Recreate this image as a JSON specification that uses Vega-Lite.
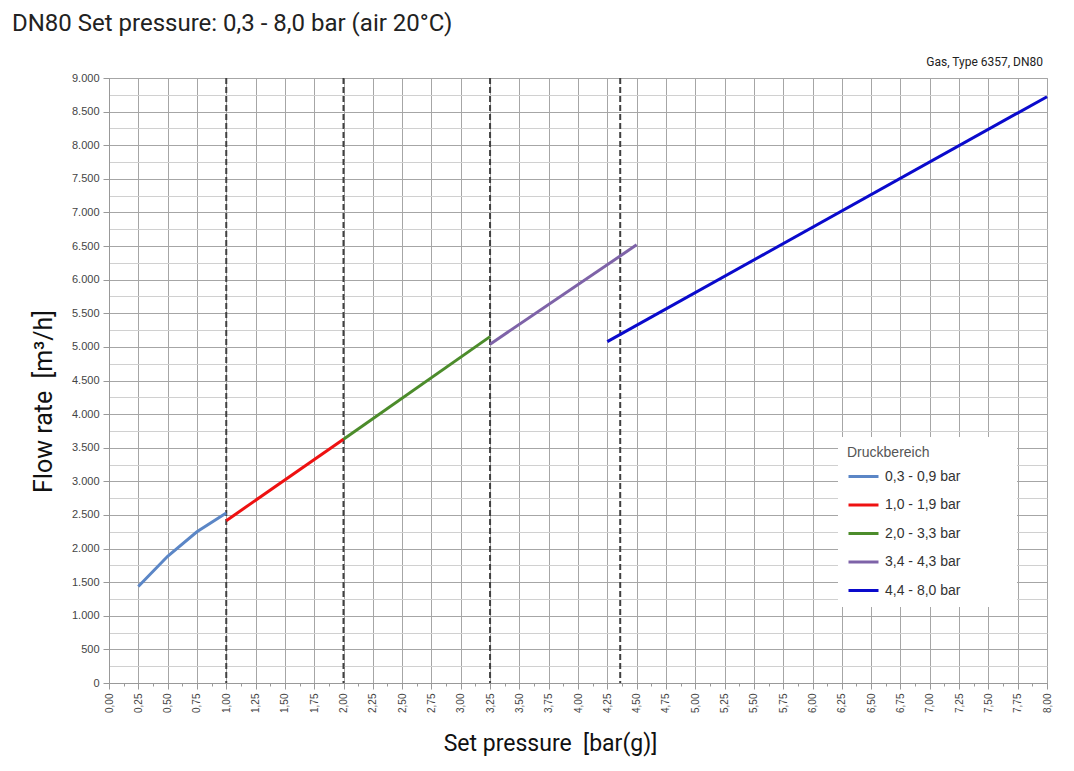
{
  "$schema": "https://vega.github.io/schema/vega-lite/v6.json",
  "autosize": {"type": "none"},
  "padding": {"left": 109, "top": 78, "right": 27, "bottom": 88},
  "width": 938,
  "height": 605,
  "background": "white",
  "title": {
    "text": "DN80 Set pressure: 0,3 - 8,0 bar (air 20°C)",
    "anchor": "start",
    "frame": "group",
    "font": "Roboto",
    "fontSize": 24,
    "fontWeight": "normal",
    "color": "#222222",
    "baseline": "alphabetic",
    "dx": -97,
    "offset": 1
  },
  "datasets": {
    "curves": [
      {"series": "0,3 - 0,9 bar", "p": 0.25, "q": 1435},
      {"series": "0,3 - 0,9 bar", "p": 0.5, "q": 1885},
      {"series": "0,3 - 0,9 bar", "p": 0.75, "q": 2250},
      {"series": "0,3 - 0,9 bar", "p": 1.0, "q": 2530},
      {"series": "1,0 - 1,9 bar", "p": 1.0, "q": 2415},
      {"series": "1,0 - 1,9 bar", "p": 2.0, "q": 3626},
      {"series": "2,0 - 3,3 bar", "p": 2.0, "q": 3626},
      {"series": "2,0 - 3,3 bar", "p": 3.25, "q": 5153},
      {"series": "3,4 - 4,3 bar", "p": 3.25, "q": 5040},
      {"series": "3,4 - 4,3 bar", "p": 4.5, "q": 6518},
      {"series": "4,4 - 8,0 bar", "p": 4.25, "q": 5079},
      {"series": "4,4 - 8,0 bar", "p": 8.0, "q": 8722}
    ],
    "bounds": [
      {"p": 1.0},
      {"p": 2.0},
      {"p": 3.25},
      {"p": 4.36}
    ],
    "note": [
      {"p": 8.0, "q": 9000, "label": "Gas, Type 6357, DN80"}
    ]
  },
  "config": {
    "view": {"stroke": "#a6a6a6", "strokeWidth": 1},
    "axis": {
      "labelFont": "Liberation Sans",
      "labelFontSize": 11,
      "labelColor": "#444444",
      "titleFont": "Roboto",
      "titleFontWeight": "normal",
      "titleColor": "#111111",
      "domainColor": "#999999",
      "tickColor": "#999999"
    }
  },
  "layer": [
    {
      "data": {"name": "bounds"},
      "mark": {"type": "rule", "color": "#404040", "strokeWidth": 2, "strokeDash": [6, 3]},
      "encoding": {
        "x": {"field": "p", "type": "quantitative", "scale": {"domain": [0, 8], "nice": false}}
      }
    },
    {
      "data": {"name": "curves"},
      "mark": {"type": "line", "strokeWidth": 3},
      "encoding": {
        "x": {
          "field": "p",
          "type": "quantitative",
          "scale": {"domain": [0, 8], "nice": false},
          "axis": {
            "title": "Set pressure \u00a0[bar(g)]",
            "titleFontSize": 23,
            "titleX": 441,
            "titleY": 67,
            "titleAnchor": "start",
            "titleAlign": "center",
            "titleBaseline": "alphabetic",
            "tickCount": 500,
            "values": [0,0.125,0.25,0.375,0.5,0.625,0.75,0.875,1,1.125,1.25,1.375,1.5,1.625,1.75,1.875,2,2.125,2.25,2.375,2.5,2.625,2.75,2.875,3,3.125,3.25,3.375,3.5,3.625,3.75,3.875,4,4.125,4.25,4.375,4.5,4.625,4.75,4.875,5,5.125,5.25,5.375,5.5,5.625,5.75,5.875,6,6.125,6.25,6.375,6.5,6.625,6.75,6.875,7,7.125,7.25,7.375,7.5,7.625,7.75,7.875,8],
            "labelExpr": "datum.value % 0.25 == 0 ? replace(format(datum.value, '.2f'), '.', ',') : ''",
            "labelAngle": -90,
            "labelAlign": "right",
            "labelBaseline": "middle",
            "labelPadding": 4,
            "labelOverlap": false,
            "labelFontSize": 10,
            "grid": true,
            "gridColor": "#a6a6a6",
            "gridOpacity": {"condition": {"test": "datum.value % 0.25 == 0", "value": 1}, "value": 0},
            "tickSize": {"condition": {"test": "datum.value % 0.25 == 0", "value": 6}, "value": 3}
          }
        },
        "y": {
          "field": "q",
          "type": "quantitative",
          "scale": {"domain": [0, 9000], "nice": false},
          "axis": {
            "title": "Flow rate \u00a0[m³/h]",
            "titleFontSize": 25,
            "titleX": -58,
            "titleY": 323,
            "titleAngle": -90,
            "titleAlign": "center",
            "titleBaseline": "alphabetic",
            "tickCount": 500,
            "values": [0,250,500,750,1000,1250,1500,1750,2000,2250,2500,2750,3000,3250,3500,3750,4000,4250,4500,4750,5000,5250,5500,5750,6000,6250,6500,6750,7000,7250,7500,7750,8000,8250,8500,8750,9000],
            "labelExpr": "datum.value % 500 == 0 ? replace(format(datum.value, ','), ',', '.') : ''",
            "labelOverlap": false,
            "labelPadding": 4,
            "grid": true,
            "gridColor": {"condition": {"test": "datum.value % 500 == 0", "value": "#a6a6a6"}, "value": "#d0d0d0"},
            "tickOpacity": {"condition": {"test": "datum.value % 500 == 0", "value": 1}, "value": 0},
            "tickSize": 6
          }
        },
        "color": {
          "field": "series",
          "type": "nominal",
          "scale": {
            "domain": ["0,3 - 0,9 bar", "1,0 - 1,9 bar", "2,0 - 3,3 bar", "3,4 - 4,3 bar", "4,4 - 8,0 bar"],
            "range": ["#5b86c6", "#ee1111", "#4c8c2b", "#7e63a8", "#0a0acc"]
          },
          "legend": {
            "title": "Druckbereich",
            "orient": "none",
            "legendX": 729,
            "legendY": 359,
            "fillColor": "white",
            "padding": 9,
            "titleFont": "Liberation Sans",
            "titleFontSize": 14,
            "titleFontWeight": "normal",
            "titleColor": "#555555",
            "titlePadding": 0,
            "labelFont": "Liberation Sans",
            "labelFontSize": 14,
            "labelColor": "#333333",
            "labelOffset": 5,
            "labelExpr": "datum.label + '            \u200b'",
            "labelLimit": 300,
            "symbolType": "stroke",
            "symbolSize": 900,
            "symbolStrokeWidth": 3,
            "rowPadding": 4.5
          }
        },
        "detail": {"field": "series"}
      }
    },
    {
      "data": {"name": "note"},
      "mark": {"type": "text", "align": "right", "baseline": "alphabetic", "dy": -12, "dx": -4, "font": "Roboto", "fontSize": 12, "color": "#222222"},
      "encoding": {
        "x": {"field": "p", "type": "quantitative"},
        "y": {"field": "q", "type": "quantitative"},
        "text": {"field": "label"}
      }
    }
  ]
}
